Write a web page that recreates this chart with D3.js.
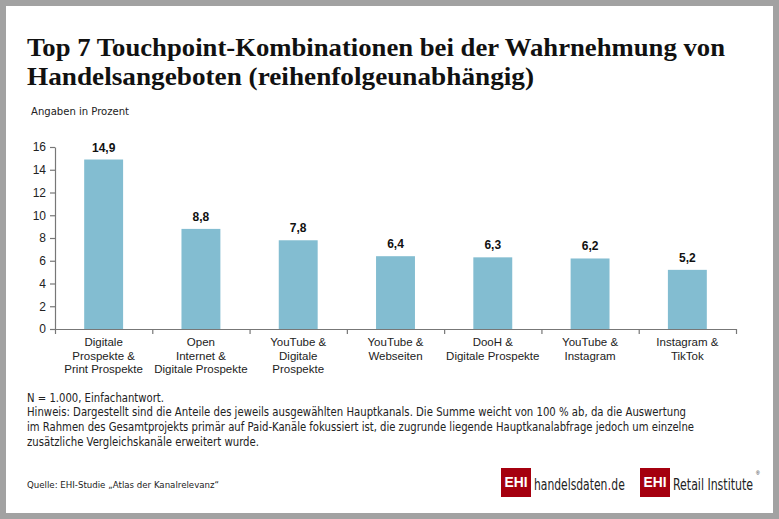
<!DOCTYPE html>
<html>
<head>
<meta charset="utf-8">
<script src="https://cdn.jsdelivr.net/npm/d3@7"></script>
<style>
  html, body { margin: 0; padding: 0; background: #a2a2a2; }
  svg { display: block; }
</style>
</head>
<body>
<div id="chart"></div>
<script>
// chart data
var categories = [
    ["Digitale", "Prospekte &", "Print Prospekte"],
    ["Open", "Internet &", "Digitale Prospekte"],
    ["YouTube &", "Digitale", "Prospekte"],
    ["YouTube &", "Webseiten"],
    ["DooH &", "Digitale Prospekte"],
    ["YouTube &", "Instagram"],
    ["Instagram &", "TikTok"]
];
var values = [14.9, 8.8, 7.8, 6.4, 6.3, 6.2, 5.2];
var yTicks = [0, 2, 4, 6, 8, 10, 12, 14, 16];

var titleLines = [
    "Top 7 Touchpoint-Kombinationen bei der Wahrnehmung von",
    "Handelsangeboten (reihenfolgeunabhängig)"
];
var notes = [
    "N = 1.000, Einfachantwort.",
    "Hinweis: Dargestellt sind die Anteile des jeweils ausgewählten Hauptkanals. Die Summe weicht von 100 % ab, da die Auswertung",
    "im Rahmen des Gesamtprojekts primär auf Paid-Kanäle fokussiert ist, die zugrunde liegende Hauptkanalabfrage jedoch um einzelne",
    "zusätzliche Vergleichskanäle erweitert wurde."
];

function main()
{
    var svgWidth = 779;
    var svgHeight = 519;
    var sans = "'Liberation Sans', Arial, sans-serif";
    var narrow = "'Liberation Sans Narrow', 'DejaVu Sans Condensed', 'Liberation Sans', sans-serif";

    var svg = d3.select("#chart").append("svg")
        .attr("width", svgWidth)
        .attr("height", svgHeight);

    // grey frame with white card
    svg.append("rect")
        .attr("width", svgWidth).attr("height", svgHeight)
        .attr("fill", "#a2a2a2");
    svg.append("rect")
        .attr("x", 6).attr("y", 6)
        .attr("width", 767).attr("height", 507)
        .attr("fill", "#ffffff");

    // title
    var titleWidths = [698, 507];
    titleLines.forEach(function(t, i) {
        svg.append("text")
            .attr("x", 27)
            .attr("y", 56 + i * 29)
            .attr("font-family", "'Liberation Serif', 'DejaVu Serif', serif")
            .attr("font-weight", "bold")
            .attr("font-size", "25px")
            .attr("fill", "#111")
            .attr("textLength", titleWidths[i])
            .attr("lengthAdjust", "spacingAndGlyphs")
            .text(t);
    });

    svg.append("text")
        .attr("x", 31)
        .attr("y", 115)
        .attr("font-family", narrow)
        .attr("font-size", "11px")
        .attr("fill", "#222")
        .attr("textLength", 98)
        .attr("lengthAdjust", "spacingAndGlyphs")
        .text("Angaben in Prozent");

    // scales
    var left = 55, right = 736, top = 147, bottom = 329;
    var xScale = d3.scaleBand()
        .domain(d3.range(categories.length))
        .range([left, right])
        .paddingInner(0.6)
        .paddingOuter(0.3);
    var yScale = d3.scaleLinear().domain([0, 16]).range([bottom, top]);
    var edge = d3.scaleLinear().domain([0, categories.length]).range([left, right]);

    // bars
    svg.selectAll(".bar")
        .data(values)
        .enter()
        .append("rect")
        .attr("class", "bar")
        .attr("x", function(d, i) { return xScale(i); })
        .attr("y", function(d) { return yScale(d); })
        .attr("width", xScale.bandwidth())
        .attr("height", function(d) { return bottom - yScale(d); })
        .attr("fill", "#83bdd1");

    // value labels
    svg.selectAll(".val")
        .data(values)
        .enter()
        .append("text")
        .attr("class", "val")
        .attr("x", function(d, i) { return xScale(i) + xScale.bandwidth() / 2; })
        .attr("y", function(d) { return yScale(d) - 8; })
        .attr("text-anchor", "middle")
        .attr("font-family", sans)
        .attr("font-weight", "bold")
        .attr("font-size", "12px")
        .attr("fill", "#111")
        .text(function(d) { return String(d).replace(".", ","); });

    // y axis
    var yAxis = svg.append("g")
        .attr("transform", "translate(" + left + ",0)")
        .call(d3.axisLeft(yScale).tickValues(yTicks).tickSize(5).tickSizeOuter(0).tickPadding(4));
    yAxis.selectAll("text")
        .attr("font-family", sans)
        .attr("font-size", "12px")
        .attr("fill", "#222");

    // x axis with separators between categories
    var xAxis = svg.append("g")
        .attr("transform", "translate(0," + bottom + ")")
        .call(d3.axisBottom(edge).tickValues(d3.range(categories.length + 1))
            .tickSize(5).tickSizeOuter(0).tickFormat(""));

    [yAxis, xAxis].forEach(function(g) {
        g.select(".domain").attr("stroke", "#777").attr("stroke-width", 1.2);
        g.selectAll(".tick line").attr("stroke", "#777").attr("stroke-width", 1.2);
    });

    // category labels
    var cat = svg.selectAll(".cat")
        .data(categories)
        .enter()
        .append("text")
        .attr("class", "cat")
        .attr("text-anchor", "middle")
        .attr("font-family", sans)
        .attr("font-size", "11.5px")
        .attr("fill", "#222");
    cat.selectAll("tspan")
        .data(function(d, i) { return d.map(function(l) { return { line: l, i: i }; }); })
        .enter()
        .append("tspan")
        .attr("x", function(d) { return xScale(d.i) + xScale.bandwidth() / 2; })
        .attr("y", function(d, j) { return 346 + j * 13.5; })
        .text(function(d) { return d.line; });

    // notes
    var noteWidths = [137, 659, 667, 232];
    var noteY = [402, 416, 431, 446];
    notes.forEach(function(t, i) {
        svg.append("text")
            .attr("x", 27)
            .attr("y", noteY[i])
            .attr("font-family", narrow)
            .attr("font-size", "11.5px")
            .attr("fill", "#222")
            .attr("textLength", noteWidths[i])
            .attr("lengthAdjust", "spacingAndGlyphs")
            .text(t);
    });

    svg.append("text")
        .attr("x", 27)
        .attr("y", 488)
        .attr("font-family", narrow)
        .attr("font-size", "9.5px")
        .attr("fill", "#222")
        .attr("textLength", 192)
        .attr("lengthAdjust", "spacingAndGlyphs")
        .text("Quelle: EHI-Studie \u201EAtlas der Kanalrelevanz\u201C");

    // logos
    var logoX = [501, 640];
    logoX.forEach(function(x) {
        svg.append("rect")
            .attr("x", x).attr("y", 468)
            .attr("width", 30).attr("height", 29)
            .attr("fill", "#a5000f");
        svg.append("text")
            .attr("x", x + 15).attr("y", 487)
            .attr("text-anchor", "middle")
            .attr("font-family", sans)
            .attr("font-weight", "bold")
            .attr("font-size", "14px")
            .attr("fill", "#fff")
            .attr("textLength", 23)
            .attr("lengthAdjust", "spacingAndGlyphs")
            .text("EHI");
    });

    // "handelsdaten.de" with a red dot: pieces laid out by their own widths,
    // then the group is squeezed horizontally to the logo width
    var hd = svg.append("g");
    var hdParts = [["handelsdaten", "#222"], [".", "#c0001a"], ["de", "#222"]];
    var cx = 0;
    hdParts.forEach(function(p) {
        var t = hd.append("text")
            .attr("x", cx).attr("y", 0)
            .attr("font-family", narrow)
            .attr("font-size", "16px")
            .attr("fill", p[1])
            .text(p[0]);
        cx += t.node().getComputedTextLength() + 0.3;
    });
    hd.attr("transform", "translate(534,490) scale(" + (91 / cx) + ",1)");

    svg.append("text")
        .attr("x", 673).attr("y", 490)
        .attr("font-family", narrow)
        .attr("font-size", "16px")
        .attr("fill", "#222")
        .attr("textLength", 80)
        .attr("lengthAdjust", "spacingAndGlyphs")
        .text("Retail Institute");
    svg.append("text")
        .attr("x", 756).attr("y", 475)
        .attr("font-family", sans)
        .attr("font-size", "5px")
        .attr("fill", "#222")
        .text("\u00AE");
}
main();
</script>
</body>
</html>
